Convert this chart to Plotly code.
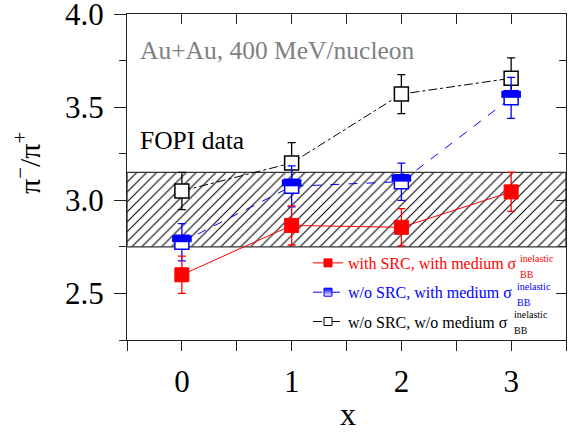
import plotly.graph_objects as go

# ---- data ----
x_vals = [0, 1, 2, 3]
with_src_med = [2.60, 2.865, 2.855, 3.045]
with_src_med_err = [0.10, 0.105, 0.10, 0.105]
wo_src_med = [2.775, 3.075, 3.10, 3.55]
wo_src_med_err = [0.10, 0.11, 0.10, 0.11]
wo_src_wo_med = [3.05, 3.20, 3.57, 3.655]
wo_src_wo_med_err = [0.10, 0.11, 0.105, 0.11]
fopi_band = [2.75, 3.15]
x_range = [-0.5, 3.5]
y_range = [2.25, 4.0]
x_ticks = [0, 1, 2, 3]
y_ticks = [2.5, 3.0, 3.5, 4.0]
names = ["with SRC, with medium σ", "w/o SRC, with medium σ", "w/o SRC, w/o medium σ"]
sup_text = "inelastic"
sub_text = "BB"

RED = "#ff0000"
BLUE = "#0000ff"
BLACK = "#000000"
FONT = "Liberation Serif, Times New Roman, serif"
AX = "#222222"

W, H = 568, 441
PL, PT, PR, PB = 127, 14, 566, 340          # plot area in page pixels
ML, MT, MR, MB = PL, PT, W - PR, H - PB
plot_w = PR - PL
plot_h = PB - PT
half_shift = 3.5 / plot_h * (y_range[1] - y_range[0])


def px(xp):
    return (xp - PL) / plot_w


def py(yp):
    return (PB - yp) / plot_h


fig = go.Figure()

# FOPI hatched band
fig.add_trace(go.Scatter(
    x=[x_range[0], x_range[1], x_range[1], x_range[0], x_range[0]],
    y=[fopi_band[0], fopi_band[0], fopi_band[1], fopi_band[1], fopi_band[0]],
    mode="lines", fill="toself", fillcolor="white",
    fillpattern=dict(shape="/", fgcolor="#000000", bgcolor="white", size=7, solidity=0.15, fillmode="replace"),
    line=dict(color="#333333", width=1.3), showlegend=False, hoverinfo="skip"))

# black: w/o SRC, w/o medium
fig.add_trace(go.Scatter(
    x=x_vals, y=wo_src_wo_med, mode="lines+markers",
    line=dict(color=BLACK, width=1, dash="dashdot"),
    marker=dict(symbol="square", size=14, color="white", line=dict(color=BLACK, width=1.5)),
    error_y=dict(type="data", array=wo_src_wo_med_err, color=BLACK, thickness=1.3, width=4),
    showlegend=False))

# blue: w/o SRC, with medium (half-filled)
fig.add_trace(go.Scatter(
    x=x_vals, y=wo_src_med, mode="lines+markers",
    line=dict(color=BLUE, width=1, dash="dash"),
    marker=dict(symbol="square", size=14, color="white", line=dict(color=BLUE, width=1.5)),
    error_y=dict(type="data", array=wo_src_med_err, color=BLUE, thickness=1.3, width=4),
    showlegend=False))
fig.add_trace(go.Scatter(
    x=x_vals, y=wo_src_med, yaxis="y3", mode="markers",
    marker=dict(symbol="line-ew", size=14, color=BLUE, line=dict(color=BLUE, width=7)),
    showlegend=False, hoverinfo="skip"))

# red: with SRC, with medium
fig.add_trace(go.Scatter(
    x=x_vals, y=with_src_med, mode="lines+markers",
    line=dict(color=RED, width=1),
    marker=dict(symbol="square", size=14, color=RED, line=dict(color=RED, width=1)),
    error_y=dict(type="data", array=with_src_med_err, color=RED, thickness=1.3, width=4),
    showlegend=False))

# legend-only entries
fig.add_trace(go.Scatter(x=[None], y=[None], mode="lines+markers", legendgroup="a",
    name=f'<span style="color:{RED}">{names[0]}</span>',
    line=dict(color=RED, width=1),
    marker=dict(symbol="square", size=8, color=RED, line=dict(color=RED, width=1))))
fig.add_trace(go.Scatter(x=[None], y=[None], mode="lines+markers", legendgroup="b",
    name=f'<span style="color:{BLUE}">{names[1]}</span>',
    line=dict(color=BLUE, width=1, dash="dash"),
    marker=dict(symbol="square", size=8, color=BLUE,
                gradient=dict(type="vertical", color="white"),
                line=dict(color=BLUE, width=1))))
fig.add_trace(go.Scatter(x=[None], y=[None], mode="lines+markers", legendgroup="c",
    name=f'<span style="color:{BLACK}">{names[2]}</span>',
    line=dict(color=BLACK, width=1, dash="dashdot"),
    marker=dict(symbol="square", size=8, color="white", line=dict(color=BLACK, width=1))))

# dummy trace for mirrored axes
fig.add_trace(go.Scatter(x=[None], y=[None], xaxis="x2", yaxis="y2", showlegend=False, hoverinfo="skip"))

axis_common = dict(showgrid=False, zeroline=False, showline=True, linecolor=AX, linewidth=1.3,
                   tickcolor=AX, tickwidth=1.3, automargin=False)
tickfont = dict(family=FONT, size=31, color="black")

fig.update_layout(
    template="none",
    width=W, height=H,
    margin=dict(l=ML, r=MR, t=MT, b=MB, autoexpand=False),
    paper_bgcolor="white", plot_bgcolor="white",
    font=dict(family=FONT, color="black"),
    xaxis=dict(range=x_range, tickvals=x_ticks, ticks="outside", ticklen=10,
               tickfont=tickfont, ticklabelstandoff=4, ticklabeloverflow="allow",
               minor=dict(dtick=0.5, tick0=0.5, ticks="outside", ticklen=10, tickwidth=1.3, tickcolor=AX),
               **axis_common),
    xaxis2=dict(range=x_range, overlaying="x", side="top", anchor="y", tickvals=x_ticks, ticks="inside",
                ticklen=10, showticklabels=False,
                minor=dict(dtick=0.5, tick0=0.5, ticks="inside", ticklen=10, tickwidth=1.3, tickcolor=AX),
                **axis_common),
    yaxis=dict(range=[y_range[0], y_range[1] + 1e-6], tickvals=y_ticks, tickformat=".1f", ticks="outside", ticklen=12,
               tickfont=tickfont, ticklabelstandoff=4, ticklabeloverflow="allow",
               minor=dict(dtick=0.25, tick0=2.25, ticks="outside", ticklen=7, tickwidth=1.3, tickcolor=AX),
               **axis_common),
    yaxis2=dict(range=[y_range[0], y_range[1] + 1e-6], overlaying="y", side="right", anchor="x", tickvals=y_ticks,
                ticks="inside", ticklen=10, showticklabels=False,
                minor=dict(dtick=0.25, tick0=2.25, ticks="inside", ticklen=7, tickwidth=1.3, tickcolor=AX),
                **axis_common),
    yaxis3=dict(range=[y_range[0] - half_shift, y_range[1] - half_shift], overlaying="y", visible=False),
    legend=dict(x=px(308), y=py(246), xanchor="left", yanchor="top", bgcolor="rgba(0,0,0,0)",
                font=dict(family=FONT, size=16, color="black"), itemwidth=30, tracegroupgap=5.5),
    showlegend=True,
)

# annotations: text labels
fig.add_annotation(text="Au+Au, 400 MeV/nucleon", xref="paper", yref="paper",
                   x=px(138), y=py(50), xanchor="left", yanchor="middle",
                   showarrow=False, font=dict(family=FONT, size=25.5, color="#808080"))
fig.add_annotation(text="FOPI data", xref="paper", yref="paper",
                   x=px(138), y=py(140), xanchor="left", yanchor="middle",
                   showarrow=False, font=dict(family=FONT, size=25.5, color="black"))
fig.add_annotation(text="π<sup>−</sup>/π<sup>+</sup>", xref="paper", yref="paper",
                   x=px(27), y=py(163), textangle=-90,
                   xanchor="center", yanchor="middle", showarrow=False,
                   font=dict(family=FONT, size=30, color="black"))
fig.add_annotation(text="x", xref="paper", yref="paper",
                   x=px(348), y=py(414),
                   xanchor="center", yanchor="middle", showarrow=False,
                   font=dict(family=FONT, size=32, color="black"))

# superscript / subscript stacks for sigma in legend
stack_pos = [(518, 258, 274, RED), (515, 286, 302, BLUE), (512, 314, 330, BLACK)]
for xs, ysup, ysub, col in stack_pos:
    fig.add_annotation(text=sup_text, xref="paper", yref="paper", x=px(xs), y=py(ysup),
                       xanchor="left", yanchor="middle", showarrow=False,
                       font=dict(family=FONT, size=10, color=col))
    fig.add_annotation(text=sub_text, xref="paper", yref="paper", x=px(xs), y=py(ysub),
                       xanchor="left", yanchor="middle", showarrow=False,
                       font=dict(family=FONT, size=10, color=col))

fig.write_html("out.html", config={"displayModeBar": False},
               post_script="document.body.style.margin='0px';")
